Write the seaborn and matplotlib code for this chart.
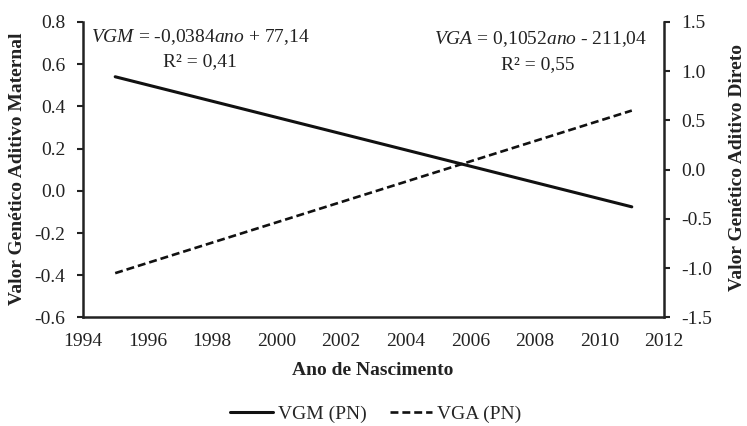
import matplotlib
matplotlib.use('Agg')
import matplotlib.pyplot as plt
import seaborn as sns
import pandas as pd
from matplotlib.lines import Line2D

# fitted lines, endpoints
years = [1995, 2011]
vgm = [0.540, -0.076]   # left axis
vga = [-1.05, 0.60]     # right axis

xticks = list(range(1994, 2013, 2))
left_ticks = [-0.6, -0.4, -0.2, 0.0, 0.2, 0.4, 0.6, 0.8]
right_ticks = [-1.5, -1.0, -0.5, 0.0, 0.5, 1.0, 1.5]

sns.set_style('white')
plt.rcParams['font.family'] = ['Liberation Serif', 'DejaVu Serif']
plt.rcParams['mathtext.fontset'] = 'custom'
plt.rcParams['mathtext.rm'] = 'Liberation Serif'
plt.rcParams['mathtext.it'] = 'Liberation Serif:italic'

df_m = pd.DataFrame({'ano': years, 'VGM': vgm})
df_a = pd.DataFrame({'ano': years, 'VGA': vga})

fig = plt.figure(figsize=(7.47, 4.26), dpi=100)
ax = fig.add_axes([0.111, 0.2547, 0.778, 0.694])
ax2 = ax.twinx()

sns.lineplot(data=df_m, x='ano', y='VGM', ax=ax, color='#111111', lw=2.2)
sns.lineplot(data=df_a, x='ano', y='VGA', ax=ax2, color='#111111', lw=1.9,
             dashes=False, linestyle=(0, (3, 1.5)))

ax.set_xlim(1994, 2012)
ax.set_ylim(-0.6, 0.8)
ax2.set_ylim(-1.5, 1.5)
ax.set_xticks(xticks)
ax.set_yticks(left_ticks)
ax2.set_yticks(right_ticks)
ax.set_yticklabels([f'{v:.1f}' for v in left_ticks])
ax2.set_yticklabels([f'{v:.1f}' for v in right_ticks])

for a in (ax, ax2):
    for s in a.spines.values():
        s.set_visible(False)
    a.tick_params(labelsize=14, colors='#222222', width=1.5, length=4.5, direction='out')
    a.set_xlabel('')
    a.set_ylabel('')
    a.grid(False)
ax.spines['left'].set_visible(True)
ax.spines['bottom'].set_visible(True)
ax2.spines['right'].set_visible(True)
for s in (ax.spines['left'], ax.spines['bottom'], ax2.spines['right']):
    s.set_linewidth(1.8)
    s.set_color('#222222')
ax.tick_params(axis='y', pad=8)
ax2.tick_params(axis='y', pad=8)
ax.tick_params(axis='x', pad=7)

ax.text(0.014, 0.949, r'$\mathit{VGM}$ = -0,0384$\mathit{ano}$ + 77,14', transform=ax.transAxes,
        fontsize=14, ha='left', va='center', color='#222222')
ax.text(0.201, 0.864, 'R² = 0,41', transform=ax.transAxes,
        fontsize=14, ha='center', va='center', color='#222222')
ax.text(0.971, 0.942, r'$\mathit{VGA}$ = 0,1052$\mathit{ano}$ - 211,04', transform=ax.transAxes,
        fontsize=14, ha='right', va='center', color='#222222')
ax.text(0.783, 0.857, 'R² = 0,55', transform=ax.transAxes,
        fontsize=14, ha='center', va='center', color='#222222')

fig.text(0.499, 0.131, 'Ano de Nascimento', fontsize=14, fontweight='bold',
         ha='center', va='center', color='#222222')
fig.text(0.024, 0.604, 'Valor Genético Aditivo Maternal', fontsize=14, fontweight='bold',
         rotation=90, ha='center', va='center', color='#222222')
fig.text(0.987, 0.606, 'Valor Genético Aditivo Direto', fontsize=14, fontweight='bold',
         rotation=90, ha='center', va='center', color='#222222')

handles = [Line2D([], [], color='#111111', lw=2.2),
           Line2D([], [], color='#111111', lw=1.9, linestyle=(0, (3, 1.5)))]
fig.legend(handles, ['VGM (PN)', 'VGA (PN)'], loc='center', bbox_to_anchor=(0.503, 0.028),
           ncol=2, frameon=False, fontsize=14, handlelength=2.2, columnspacing=1.2,
           handletextpad=0.25)

fig.savefig('out.png', dpi=100)
